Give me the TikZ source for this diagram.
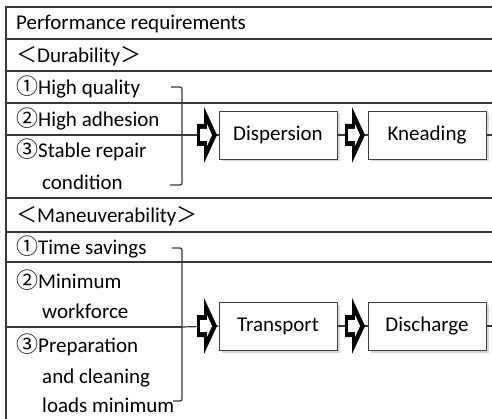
\documentclass[tikz,border=0pt]{standalone}
\usepackage{fontspec}
\setmainfont{Carlito}
\newfontfamily\cjk{Noto Sans CJK JP}
\usetikzlibrary{shadows}
\definecolor{rulegray}{RGB}{55,55,55}
\newcommand\cnum[1]{{\cjk\fontsize{22}{24}\selectfont #1}}
\tikzset{
  txt/.style={anchor=base west,inner sep=0pt,font=\fontsize{21}{24}\selectfont},
  stage/.style={draw=black!75,line width=0.9,fill=white,minimum width=118,minimum height=48,inner sep=0pt,
    font=\fontsize{21}{24}\selectfont,drop shadow={shadow xshift=2.5pt,shadow yshift=-2.5pt,fill=black!30}},
  link/.style={rulegray,line width=1.2},
  fatarrow/.pic={
    \fill[black] (0,-11) -- (7,-11) -- (7,-28) -- (20,0) -- (7,28) -- (7,11) -- (0,11) -- cycle;
    \fill[white] (3,-6) -- (10,-6) -- (10,-11) -- (15,0) -- (10,11) -- (10,6) -- (3,6) -- cycle;}
}

\begin{document}
\begin{tikzpicture}[x=1pt,y=-1pt]
  \useasboundingbox (0,0) rectangle (492,419);
  \foreach \y in {7,39,71,103,198,232,262}{ \draw[rulegray,line width=1.4] (6,\y) -- (492,\y); }
  \foreach \y in {135,327}{ \draw[rulegray,line width=1.4] (6,\y) -- (182,\y); }
  \draw[rulegray,line width=1.4] (6,6.3) -- (6,419);

  \node[txt] (perf) at (16,30) {Performance requirements};
  \node[txt] (dura) at (16,63) {{\cjk ＜}Durability{\cjk ＞}};
  \node[txt] (dur1) at (16,95) {\cnum{①}High quality};
  \node[txt] (dur2) at (16,127) {\cnum{②}High adhesion};
  \node[txt] (dur3) at (16,158) {\cnum{③}Stable repair};
  \node[txt] (dur3b) at (42,190) {condition};
  \node[txt] (mane) at (16,223) {{\cjk ＜}Maneuverability{\cjk ＞}};
  \node[txt] (man1) at (16,255) {\cnum{①}Time savings};
  \node[txt] (man2) at (16,288) {\cnum{②}Minimum};
  \node[txt] (man2b) at (42,318) {workforce};
  \node[txt] (man3) at (16,352) {\cnum{③}Preparation};
  \node[txt] (man3b) at (42,383) {and cleaning};
  \node[txt] (man3c) at (42,412) {loads minimum};

  \draw[link,rounded corners=2] (171,87) -- (182,87) -- (182,185) -- (170,185);
  \draw[link,rounded corners=2] (172,248) -- (182,248) -- (182,401) -- (173,401);
  \coordinate (brkD) at (182,135);
  \coordinate (brkM) at (182,327);
  \coordinate (endD) at (492,135);
  \coordinate (endM) at (492,326);

  \node[stage] (disp) at (278,135) {Dispersion};
  \node[stage] (knead) at (427,135) {Kneading};
  \node[stage] (trans) at (278,326) {Transport};
  \node[stage] (disch) at (427,326) {Discharge};

  \draw[link] (brkD) -- (disp.west);
  \draw[link] (disp.east) -- (knead.west);
  \draw[link] (knead.east) -- (endD);
  \draw[link] (brkM) -- (trans.west);
  \draw[link] (trans.east) -- (disch.west);
  \draw[link] (disch.east) -- (endM);

  \pic at (197,135) {fatarrow};
  \pic at (345,135) {fatarrow};
  \pic at (197,326) {fatarrow};
  \pic at (345,326) {fatarrow};
\end{tikzpicture}
\end{document}
